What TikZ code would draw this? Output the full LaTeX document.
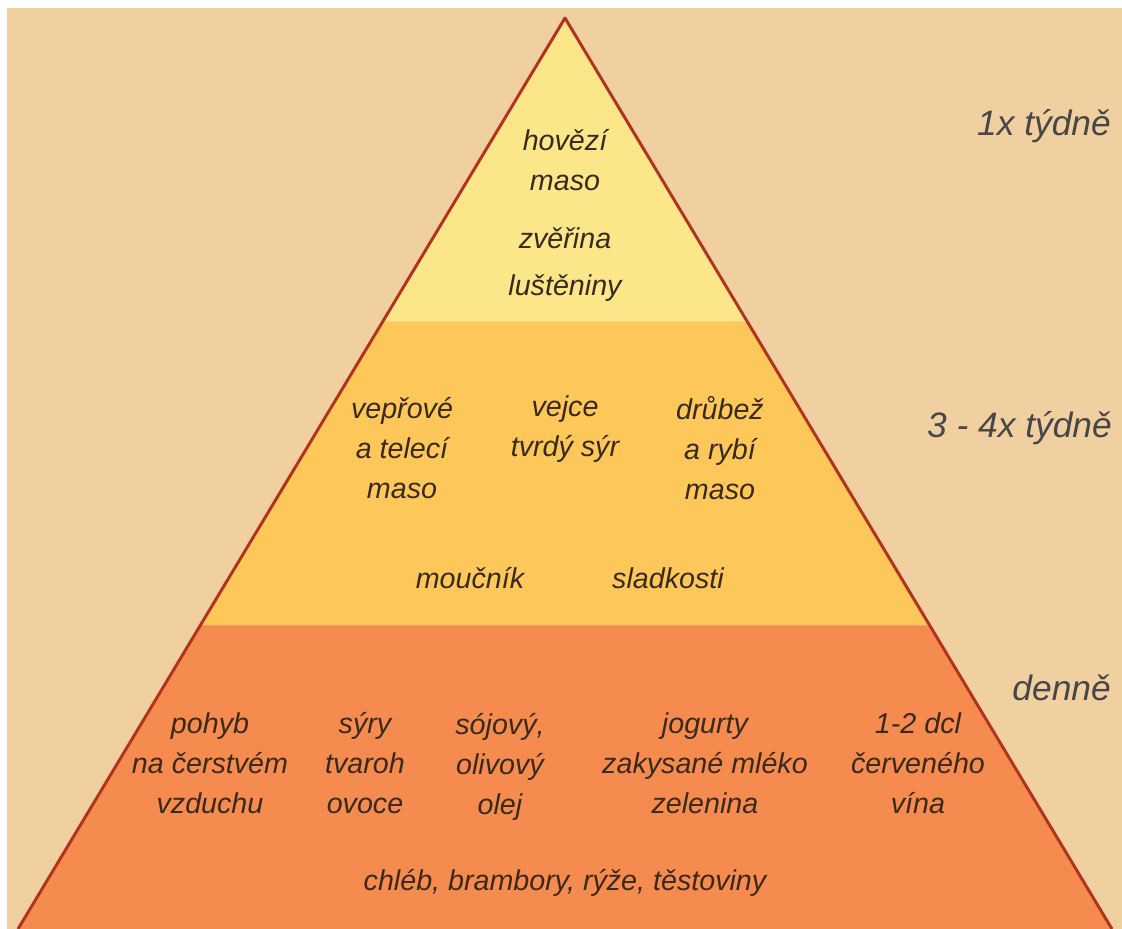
\documentclass[tikz,border=0pt]{standalone}
\usepackage{fontspec}
\setmainfont{Liberation Sans}
\usetikzlibrary{calc,positioning}
\definecolor{bgbeige}{HTML}{F0D0A0}
\definecolor{tierone}{HTML}{FCE68A}
\definecolor{tiertwo}{HTML}{FDC75A}
\definecolor{tierthree}{HTML}{F58B4E}
\definecolor{rimred}{HTML}{B3321E}
\definecolor{inkbrown}{HTML}{3A2A1C}

\begin{document}
\begin{tikzpicture}[x=0.75pt, y=-0.75pt,
  food/.style={font=\fontsize{21.5}{30}\selectfont\itshape, text=inkbrown, align=center, inner sep=0pt},
  freq/.style={font=\fontsize{26.5}{30}\selectfont\itshape, text=black!72, anchor=east, inner sep=0pt}]
  \useasboundingbox (0,0) rectangle (1122,929);
  \fill[white] (0,0) rectangle (1122,929);
  \fill[bgbeige] (7,8) rectangle (1122,929);
  % pyramid corners
  \coordinate (apex) at (565,18);
  \coordinate (bl) at (18,929);
  \coordinate (br) at (1112,929);
  \coordinate (l1) at ($(apex)!1/3!(bl)$);
  \coordinate (r1) at ($(apex)!1/3!(br)$);
  \coordinate (l2) at ($(apex)!2/3!(bl)$);
  \coordinate (r2) at ($(apex)!2/3!(br)$);
  % bands
  \fill[tierone] (apex) -- (l1) -- (r1) -- cycle;
  \fill[tiertwo] (l1) -- (l2) -- (r2) -- (r1) -- cycle;
  \fill[tierthree] (l2) -- (bl) -- (br) -- (r2) -- cycle;
  \draw[rimred, line width=2.2pt, line join=round] (bl) -- (apex) -- (br);
  % weekly once
  \node[food] (beef) at (565,160) {hovězí\\maso};
  \node[food] (game) at (565,238) {zvěřina};
  \node[food] (pulses) at (565,288) {luštěniny};
  % three to four times
  \node[food] (pork) at (402,448) {vepřové\\a telecí\\maso};
  \node[food] (eggs) at (565,429) {vejce\\tvrdý sýr};
  \node[food] (poultry) at (720,448) {drůbež\\a rybí\\maso};
  \node[food] (cake) at (470,578) {moučník};
  \node[food] (sweets) at (668,578) {sladkosti};
  % daily
  \node[food] (move) at (210,763) {pohyb\\na čerstvém\\vzduchu};
  \node[food] (cheese) at (365,763) {sýry\\tvaroh\\ovoce};
  \node[food] (oil) at (500,767) {sójový,\\olivový\\olej};
  \node[food] (dairy) at (705,763) {jogurty\\zakysané mléko\\zelenina};
  \node[food] (wine) at (918,763) {1-2 dcl\\červeného\\vína};
  \node[food] (starch) at (565,883) {chléb, brambory, rýže, těstoviny};
  % frequency labels
  \node[freq] (weekly) at (1111,126) {1x týdně};
  \node[freq] (often) at (1112,428) {3 - 4x týdně};
  \node[freq] (daily) at (1111,688) {denně};
\end{tikzpicture}
\end{document}
